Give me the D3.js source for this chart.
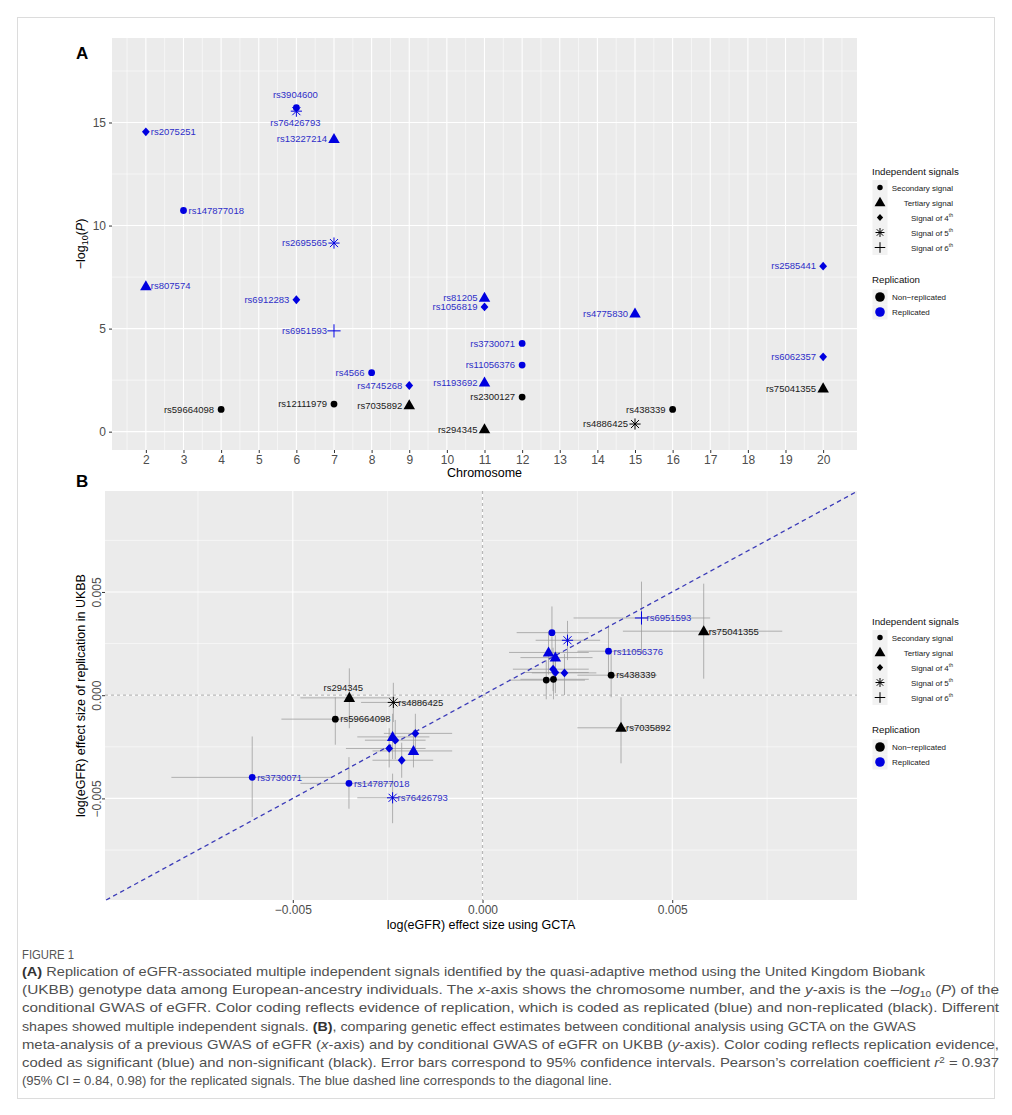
<!DOCTYPE html>
<html>
<head>
<meta charset="utf-8">
<script src="https://cdn.jsdelivr.net/npm/d3@7"></script>
<style>
  body { margin: 0; background: #fff; }
  svg { display: block; font-family: "Liberation Sans", Arial, Helvetica, sans-serif; }
</style>
</head>
<body>
<svg id="fig" width="1012" height="1115"></svg>
<script>
// ---------------- Panel A: conditional signals by chromosome ----------------
const snpA = ["rs2075251","rs147877018","rs3904600","rs76426793","rs13227214","rs2695565",
  "rs807574","rs6912283","rs6951593","rs4566","rs4745268","rs59664098","rs12111979",
  "rs7035892","rs294345","rs81205","rs1056819","rs1193692","rs3730071","rs11056376",
  "rs2300127","rs4775830","rs438339","rs4886425","rs2585441","rs6062357","rs75041355"];
const chromA = [2,3,6,6,7,7, 2,6,7,8,9,4,7, 9,11,11,11,11,12,12, 12,15,16,15,20,20,20];
const negLogP = [14.55,10.73,15.72,15.55,14.2,9.15, 7.06,6.4,4.89,2.86,2.24,1.08,1.34,
  1.28,0.12,6.5,6.05,2.39,4.28,3.23, 1.68,5.73,1.08,0.37,8.03,3.63,2.1];
// signal order: 2 = secondary, 3 = tertiary, 4..6 = 4th..6th
const signalA = [4,2,2,5,3,5, 3,4,6,2,4,2,2, 3,3,3,4,3,2,2, 2,3,2,5,4,4,3];
const replicatedA = [1,1,1,1,1,1, 1,1,1,1,1,0,0, 0,0,1,1,1,1,1, 0,1,0,0,1,1,0];
const chromTicks = d3.range(2, 21);
const pTicks = [0, 5, 10, 15];

// ---------------- Panel B: GCTA vs UKBB effect sizes ----------------
const labelB = ["rs294345","rs4886425","rs59664098","rs3730071","rs147877018","rs76426793",
  "rs6951593","rs75041355","rs11056376","rs438339","rs7035892",
  "","","","","","", "","","","","","","","",""];
const signalB = [3,5,2,2,2,5, 6,3,2,2,3, 3,4,4,4,4,3, 2,5,3,3,4,4,4,2,2];
const replicatedB = [0,0,0,1,1,1, 1,0,1,0,0, 1,1,1,1,1,1, 1,1,1,1,1,1,1,0,0];
const betaGCTA = [-0.00351,-0.00235,-0.00388,-0.00607,-0.00352,-0.00237,
  0.00419,0.00583,0.00332,0.00339,0.00365,
  -0.00237,-0.00230,-0.00246,-0.00213,-0.00177,-0.00182,
  0.00183,0.00224,0.00174,0.00192,0.00186,0.00192,0.00216,0.00168,0.00187];
const betaUKBB = [-0.00013,-0.00035,-0.00116,-0.00398,-0.00427,-0.00497,
  0.00374,0.00310,0.00213,0.00097,-0.00158,
  -0.00202,-0.00218,-0.00258,-0.00315,-0.00185,-0.00270,
  0.00303,0.00266,0.00207,0.00182,0.00126,0.00110,0.00108,0.00073,0.00077];
const gctaLow = [-0.0048,-0.0032,-0.0053,-0.0082,-0.0048,-0.0033,
  0.0024,0.0037,0.0025,0.0025,0.0025,
  -0.0033,-0.0031,-0.0036,-0.0029,-0.0026,-0.0029,
  0.0009,0.0014,0.0007,0.0010,0.0008,0.0011,0.0013,0.0007,0.0010];
const gctaHigh = [-0.0023,-0.0012,-0.0025,-0.0040,-0.0023,-0.0014,
  0.0060,0.0079,0.0042,0.0046,0.0048,
  -0.0014,-0.0015,-0.0015,-0.0013,-0.0008,-0.0008,
  0.0028,0.0031,0.0028,0.0029,0.0028,0.0028,0.0030,0.0027,0.0028];
const ukbbLow = [-0.0016,-0.0013,-0.0024,-0.0059,-0.0055,-0.0062,
  0.0020,0.0008,0.0009,-0.0001,-0.0033,
  -0.0031,-0.0031,-0.0035,-0.0040,-0.0028,-0.0035,
  0.0017,0.0017,0.0010,0.0008,0.0002,0.0001,0.0000,-0.0002,-0.0002];
const ukbbHigh = [0.0013,0.0006,-0.0001,-0.0020,-0.0030,-0.0038,
  0.0055,0.0054,0.0034,0.0022,-0.0001,
  -0.0009,-0.0012,-0.0016,-0.0023,-0.0009,-0.0017,
  0.0043,0.0036,0.0031,0.0029,0.0023,0.0021,0.0020,0.0017,0.0018];
const betaTicks = [-0.005, 0, 0.005];

// legend entries
const signalNames = [[2,"Secondary signal",""],[3,"Tertiary signal",""],[4,"Signal of 4","th"],[5,"Signal of 5","th"],[6,"Signal of 6","th"]];
const replicationNames = [[0,"Non\u2212replicated"],[1,"Replicated"]];

// ---------------- styling / layout ----------------
const BLUE = "#0000e0", BLUE_TXT = "#2e2ec8", BLACK = "#000", BLACK_TXT = "#1a1a1a";
const PANEL_BG = "#ebebeb";
const col = r => r ? BLUE : BLACK;
const tcol = r => r ? BLUE_TXT : BLACK_TXT;

// label placement in panel A: default left of the point
const sideA = { rs2075251: "right", rs147877018: "right", rs807574: "right",
  rs3904600: "above", rs76426793: "below" };
const sideB = { rs294345: "above" };

const svg = d3.select("#fig");

// thin frame around the figure
svg.append("rect").attr("x", 17.5).attr("y", 17.5).attr("width", 977).attr("height", 1081)
  .attr("fill", "none").attr("stroke", "#dcdcdc").attr("stroke-width", 1);

// marker shapes (ggplot shapes 16, 17, 18, 8, 3)
function drawShape(g, sig, x, y, color, k = 1) {
  if (sig === 2) {
    g.append("circle").attr("cx", x).attr("cy", y).attr("r", 3.4 * k).attr("fill", color);
  } else if (sig === 3) {
    const s = 11.5 * k, h = s * 0.87;
    g.append("path").attr("d", `M${x},${y - h * 0.6}L${x + s / 2},${y + h * 0.4}L${x - s / 2},${y + h * 0.4}Z`).attr("fill", color);
  } else if (sig === 4) {
    const w = 3.9 * k, h = 4.4 * k;
    g.append("path").attr("d", `M${x},${y - h}L${x + w},${y}L${x},${y + h}L${x - w},${y}Z`).attr("fill", color);
  } else if (sig === 5) {
    const r = 5.6 * k, d = r * 0.72;
    g.append("path").attr("d", `M${x - r},${y}H${x + r}M${x},${y - r}V${y + r}M${x - d},${y - d}L${x + d},${y + d}M${x - d},${y + d}L${x + d},${y - d}`)
      .attr("stroke", color).attr("stroke-width", 1).attr("fill", "none");
  } else {
    const r = 6.6 * k;
    g.append("path").attr("d", `M${x - r},${y}H${x + r}M${x},${y - r}V${y + r}`)
      .attr("stroke", color).attr("stroke-width", 1).attr("fill", "none");
  }
}

function styleAxis(g, labelColor) {
  g.select(".domain").remove();
  g.selectAll(".tick line").attr("stroke", "#333").attr("stroke-width", 1);
  g.selectAll(".tick text").attr("fill", labelColor).attr("font-size", 12)
    .attr("font-family", "Liberation Sans, Arial, sans-serif");
}

function drawGrid(g, x, y, xMajor, xMinor, yMajor, yMinor, x0, x1, y0, y1) {
  g.append("rect").attr("x", x0).attr("y", y1).attr("width", x1 - x0).attr("height", y0 - y1).attr("fill", PANEL_BG);
  xMinor.forEach(v => g.append("line").attr("x1", x(v)).attr("x2", x(v)).attr("y1", y1).attr("y2", y0).attr("stroke", "#fff").attr("stroke-width", 0.55));
  yMinor.forEach(v => g.append("line").attr("x1", x0).attr("x2", x1).attr("y1", y(v)).attr("y2", y(v)).attr("stroke", "#fff").attr("stroke-width", 0.55));
  xMajor.forEach(v => g.append("line").attr("x1", x(v)).attr("x2", x(v)).attr("y1", y1).attr("y2", y0).attr("stroke", "#fff").attr("stroke-width", 1.1));
  yMajor.forEach(v => g.append("line").attr("x1", x0).attr("x2", x1).attr("y1", y(v)).attr("y2", y(v)).attr("stroke", "#fff").attr("stroke-width", 1.1));
}

// ================= Panel A =================
const A = { left: 112, right: 857, top: 38, bottom: 450 };
const xA = d3.scaleLinear().domain([1.1, 20.9]).range([A.left, A.right]);
const yA = d3.scaleLinear().domain([-0.89, 19.1]).range([A.bottom, A.top]);
const gA = svg.append("g");
drawGrid(gA, xA, yA, chromTicks, d3.range(1.5, 21, 1), pTicks, [2.5, 7.5, 12.5, 17.5], A.left, A.right, A.bottom, A.top);

const axAx = gA.append("g").attr("transform", `translate(0,${A.bottom})`)
  .call(d3.axisBottom(xA).tickValues(chromTicks).tickSize(3).tickPadding(2).tickFormat(d3.format("d")));
styleAxis(axAx, "#4d4d4d");
const axAy = gA.append("g").attr("transform", `translate(${A.left},0)`)
  .call(d3.axisLeft(yA).tickValues(pTicks).tickSize(3).tickPadding(3).tickFormat(d3.format("d")));
styleAxis(axAy, "#4d4d4d");

gA.append("text").attr("x", (A.left + A.right) / 2).attr("y", 477).attr("text-anchor", "middle")
  .attr("font-size", 12.5).attr("fill", "#000").text("Chromosome");
const yTitleA = gA.append("text").attr("transform", `translate(85,${(A.top + A.bottom) / 2}) rotate(-90)`)
  .attr("text-anchor", "middle").attr("font-size", 12.5).attr("fill", "#000");
yTitleA.append("tspan").text("\u2212log");
yTitleA.append("tspan").attr("font-size", 9).attr("dy", 3).text("10");
yTitleA.append("tspan").attr("dy", -3).text("(");
yTitleA.append("tspan").attr("font-style", "italic").text("P");
yTitleA.append("tspan").text(")");

svg.append("text").attr("x", 76).attr("y", 59).attr("font-size", 17).attr("font-weight", "bold").text("A");

snpA.forEach((s, i) => {
  const px = xA(chromA[i]), py = yA(negLogP[i]);
  drawShape(gA, signalA[i], px, py, col(replicatedA[i]));
});
snpA.forEach((s, i) => {
  const px = xA(chromA[i]), py = yA(negLogP[i]);
  const side = sideA[s] || "left";
  const t = gA.append("text").attr("font-size", 9.5).attr("fill", tcol(replicatedA[i])).text(s);
  if (side === "left") t.attr("x", px - 7).attr("y", py).attr("dy", "0.35em").attr("text-anchor", "end");
  else if (side === "right") t.attr("x", px + 5).attr("y", py).attr("dy", "0.35em").attr("text-anchor", "start");
  else if (side === "above") t.attr("x", px - 1).attr("y", py - 12.5).attr("dy", "0.35em").attr("text-anchor", "middle");
  else t.attr("x", px - 1).attr("y", py + 11.5).attr("dy", "0.35em").attr("text-anchor", "middle");
});

// ================= Panel B =================
const B = { left: 105, right: 857, top: 491, bottom: 900 };
const xB = d3.scaleLinear().domain([-0.00995, 0.00987]).range([B.left, B.right]);
const yB = d3.scaleLinear().domain([-0.00992, 0.00989]).range([B.bottom, B.top]);
const gB = svg.append("g");
drawGrid(gB, xB, yB, betaTicks, [-0.0075, -0.0025, 0.0025, 0.0075], betaTicks, [-0.0075, -0.0025, 0.0025, 0.0075], B.left, B.right, B.bottom, B.top);

const fmtB = v => (v < 0 ? "\u2212" : "") + Math.abs(v).toFixed(3);
const axBx = gB.append("g").attr("transform", `translate(0,${B.bottom})`)
  .call(d3.axisBottom(xB).tickValues(betaTicks).tickSize(3).tickPadding(2).tickFormat(fmtB));
styleAxis(axBx, "#4d4d4d");
const axBy = gB.append("g").attr("transform", `translate(${B.left},0)`)
  .call(d3.axisLeft(yB).tickValues(betaTicks).tickSize(3).tickFormat(fmtB));
styleAxis(axBy, "#4d4d4d");
axBy.selectAll(".tick text").attr("transform", "rotate(-90)").attr("x", 0).attr("y", -4)
  .attr("dy", 0).attr("text-anchor", "middle");

gB.append("text").attr("x", (B.left + B.right) / 2).attr("y", 929).attr("text-anchor", "middle")
  .attr("font-size", 12.5).attr("fill", "#000").text("log(eGFR) effect size using GCTA");
gB.append("text").attr("transform", `translate(85,${(B.top + B.bottom) / 2}) rotate(-90)`)
  .attr("text-anchor", "middle").attr("font-size", 12.5).attr("fill", "#000")
  .text("log(eGFR) effect size of replication in UKBB");

svg.append("text").attr("x", 76).attr("y", 487).attr("font-size", 17).attr("font-weight", "bold").text("B");

// zero reference lines
gB.append("line").attr("x1", xB(0)).attr("x2", xB(0)).attr("y1", B.top).attr("y2", B.bottom)
  .attr("stroke", "#b8b8b8").attr("stroke-width", 1.2).attr("stroke-dasharray", "3,3");
gB.append("line").attr("x1", B.left).attr("x2", B.right).attr("y1", yB(0)).attr("y2", yB(0))
  .attr("stroke", "#b8b8b8").attr("stroke-width", 1.2).attr("stroke-dasharray", "3,3");

// 95% confidence intervals
betaGCTA.forEach((v, i) => {
  gB.append("line").attr("x1", xB(gctaLow[i])).attr("x2", xB(gctaHigh[i])).attr("y1", yB(betaUKBB[i])).attr("y2", yB(betaUKBB[i]))
    .attr("stroke", "#9a9a9a").attr("stroke-opacity", 0.75).attr("stroke-width", 1);
  gB.append("line").attr("x1", xB(v)).attr("x2", xB(v)).attr("y1", yB(ukbbLow[i])).attr("y2", yB(ukbbHigh[i]))
    .attr("stroke", "#9a9a9a").attr("stroke-opacity", 0.75).attr("stroke-width", 1);
});

// identity line
const dLo = Math.max(xB.domain()[0], yB.domain()[0]), dHi = Math.min(xB.domain()[1], yB.domain()[1]);
gB.append("line").attr("x1", xB(dLo)).attr("y1", yB(dLo)).attr("x2", xB(dHi)).attr("y2", yB(dHi))
  .attr("stroke", "#3a3ab8").attr("stroke-width", 1.3).attr("stroke-dasharray", "4.5,3.5");

betaGCTA.forEach((v, i) => drawShape(gB, signalB[i], xB(v), yB(betaUKBB[i]), col(replicatedB[i])));
labelB.forEach((s, i) => {
  if (!s) return;
  const px = xB(betaGCTA[i]), py = yB(betaUKBB[i]);
  const t = gB.append("text").attr("font-size", 9.5).attr("fill", tcol(replicatedB[i])).text(s);
  if ((sideB[s] || "right") === "above") t.attr("x", px - 6).attr("y", py - 10).attr("dy", "0.35em").attr("text-anchor", "middle");
  else t.attr("x", px + 5).attr("y", py).attr("dy", "0.35em").attr("text-anchor", "start");
});

// ================= Legends =================
function legend(y0) {
  const g = svg.append("g");
  g.append("text").attr("x", 872).attr("y", y0 + 3.5).attr("font-size", 9.7).attr("fill", "#111").text("Independent signals");
  signalNames.forEach(([sig, name, sup], j) => {
    const cy = y0 + 16.5 + j * 15;
    g.append("rect").attr("x", 872.5).attr("y", cy - 7.5).attr("width", 15).attr("height", 15).attr("fill", "#f2f2f2");
    drawShape(g, sig, 880, cy, "#000", sig === 3 ? 0.95 : 0.8);
    const t = g.append("text").attr("x", 953).attr("y", cy + 3).attr("font-size", 8).attr("fill", "#222").attr("text-anchor", "end");
    t.append("tspan").text(name);
    if (sup) t.append("tspan").attr("font-size", 5).attr("dy", -3.5).text(sup);
  });
  g.append("text").attr("x", 872).attr("y", y0 + 112).attr("font-size", 9.7).attr("fill", "#111").text("Replication");
  replicationNames.forEach(([r, name], j) => {
    const cy = y0 + 126 + j * 15;
    g.append("rect").attr("x", 872.5).attr("y", cy - 7.5).attr("width", 15).attr("height", 15).attr("fill", "#f2f2f2");
    g.append("circle").attr("cx", 880).attr("cy", cy).attr("r", 4.8).attr("fill", col(r));
    g.append("text").attr("x", 892).attr("y", cy + 3).attr("font-size", 8).attr("fill", "#222").text(name);
  });
}
legend(171);
legend(621);

// ================= Caption =================
const CAP_FONT = "'Liberation Sans', Arial, sans-serif";
svg.append("text").attr("x", 22).attr("y", 958.5).attr("font-size", 12.5).attr("fill", "#555")
  .attr("font-family", CAP_FONT).attr("textLength", 52).attr("lengthAdjust", "spacingAndGlyphs").text("FIGURE 1");
// each caption line with the width it occupies in the condensed caption face
const captionLines = [
  [[["b","(A)"],[""," Replication of eGFR-associated multiple independent signals identified by the quasi-adaptive method using the United Kingdom Biobank"]], 903],
  [[["","(UKBB) genotype data among European-ancestry individuals. The "],["i","x"],["","-axis shows the chromosome number, and the "],["i","y"],["","-axis is the \u2013"],["i","log"],["sub","10"],[""," ("],["i","P"],["",") of the"]], 977],
  [[["","conditional GWAS of eGFR. Color coding reflects evidence of replication, which is coded as replicated (blue) and non-replicated (black). Different"]], 977],
  [[["","shapes showed multiple independent signals. "],["b","(B)"],["",", comparing genetic effect estimates between conditional analysis using GCTA on the GWAS"]], 894],
  [[["","meta-analysis of a previous GWAS of eGFR ("],["i","x"],["","-axis) and by conditional GWAS of eGFR on UKBB ("],["i","y"],["","-axis). Color coding reflects replication evidence,"]], 977],
  [[["","coded as significant (blue) and non-significant (black). Error bars correspond to 95% confidence intervals. Pearson\u2019s correlation coefficient "],["i","r"],["sup","2"],[""," = 0.937"]], 977],
  [[["","(95% CI = 0.84, 0.98) for the replicated signals. The blue dashed line corresponds to the diagonal line."]], 590]
];
captionLines.forEach(([parts, len], li) => {
  const t = svg.append("text").attr("x", 22).attr("y", 976 + li * 18.2).attr("font-size", 13.5)
    .attr("fill", "#505050").attr("font-family", CAP_FONT)
    .attr("textLength", len).attr("lengthAdjust", "spacingAndGlyphs");
  let shift = 0;
  parts.forEach(([k, s]) => {
    const sp = t.append("tspan").text(s);
    let want = 0;
    if (k === "b") sp.attr("font-weight", "bold").attr("fill", "#333");
    if (k === "i") sp.attr("font-style", "italic");
    if (k === "sub") { sp.attr("font-size", 9); want = 3; }
    if (k === "sup") { sp.attr("font-size", 9); want = -4; }
    if (want !== shift) { sp.attr("dy", want - shift); shift = want; }
  });
});
</script>
</body>
</html>
